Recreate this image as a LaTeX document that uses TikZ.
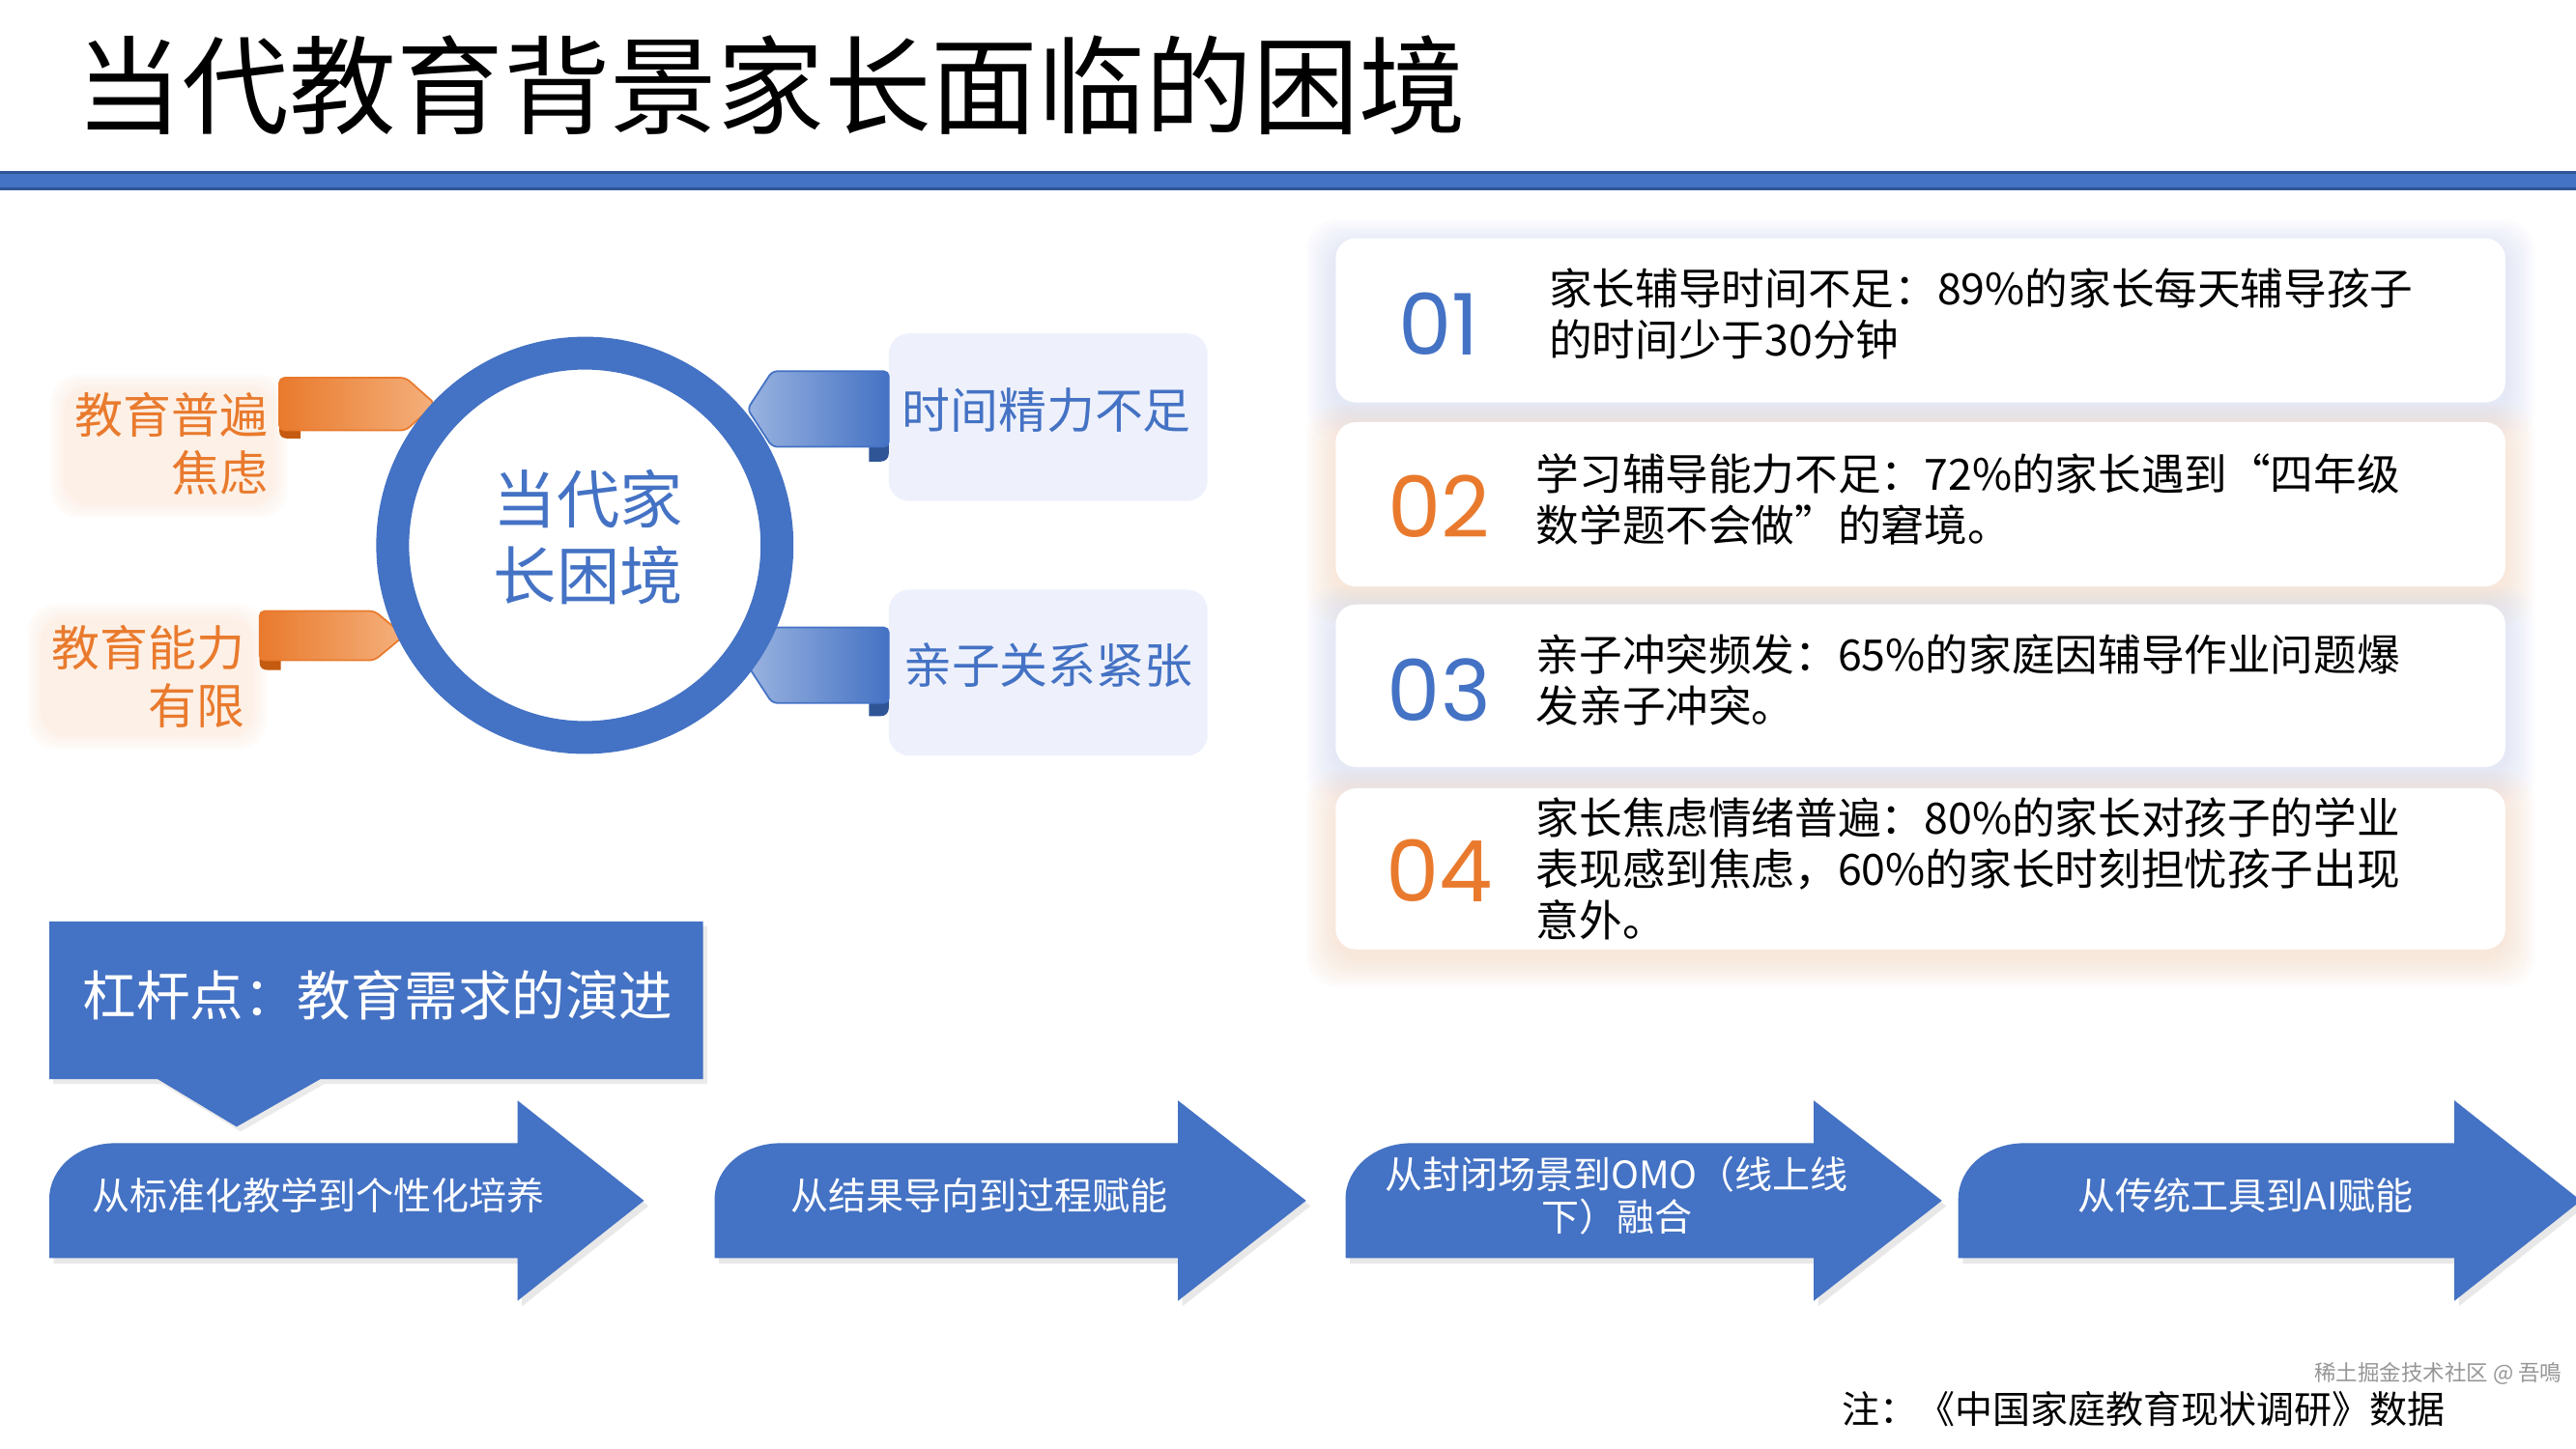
\documentclass[tikz,border=0pt]{standalone}
\usepackage{fontspec}
\setmainfont{Noto Sans CJK SC}
\newfontfamily\numfont{Poppins}
\usetikzlibrary{shadows}
\definecolor{mblue}{HTML}{4472C4}
\definecolor{dblue}{HTML}{2F5597}
\definecolor{lblue}{HTML}{9AB3E0}
\definecolor{morange}{HTML}{E97A2D}
\definecolor{lorange}{HTML}{F4B07C}
\definecolor{dorange}{HTML}{C55A11}
\definecolor{peach}{HTML}{FDF0E6}
\definecolor{lav}{HTML}{EEF1FB}
\definecolor{glowb}{HTML}{C9D4EE}
\definecolor{glowo}{HTML}{F8D3B8}
\newdimen\pxu \pxu=0.17003mm
\newcommand\fsz[2]{\fontsize{#1pt}{#2pt}\selectfont}
\newcommand\mycard[3]{%
  \foreach \i in {1,...,10}{\fill[#3, opacity=0.055, rounded corners=9pt] ({813-1.8*\i},{#1-1.6*\i+5}) rectangle ({1525+1.8*\i},{#2+1.8*\i+5});}
  \fill[white, rounded corners=6pt] (813,#1) rectangle (1525,#2);}
\newcommand\bigarrow[3]{%
  \fill[mblue, drop shadow={opacity=0.45, fill=black!20, shadow xshift=1.3pt, shadow yshift=-1.6pt}]
   (#1,766) -- (#1,730) .. controls (#1,711) and ({#1+18},696) .. ({#1+40},696)
   -- (#2,696) -- (#2,670) -- (#3,731) -- (#2,792) -- (#2,766) -- cycle;}
\tikzset{
  txt/.style={inner sep=0pt, outer sep=0pt},
  ttl/.style={txt, anchor=west, font=\fsz{31.5}{36}},
  orlab/.style={txt, anchor=east, align=right, text=morange, font=\fsz{14.2}{17}},
  bllab/.style={txt, anchor=west, text=mblue, font=\fsz{14.2}{17}},
  numtxt/.style={txt, font=\numfont\fsz{25}{30}},
  cardtxt/.style={txt, anchor=west, align=left, font=\fsz{12.7}{15}},
  arrtxt/.style={txt, align=center, text=white, font=\fsz{11.1}{12.6}},
}
\begin{document}
\begin{tikzpicture}[x=0.17003mm,y=-0.17003mm]
\useasboundingbox (0,0) rectangle (1568,882);
\fill[white] (0,0) rectangle (1568,882);

% title and bar
\node[ttl] (title) at (46,52) {当代教育背景家长面临的困境};
\draw[dblue, fill=mblue, line width=0.7pt] (-5,105) rectangle (1573,115);

% left label backgrounds
\foreach \i in {1,...,4}{\fill[peach, opacity=0.25, rounded corners=8pt] ({39-2*\i},{236-2*\i}) rectangle ({167+2*\i},{307+2*\i});}
\fill[peach, rounded corners=7pt] (39,236) rectangle (167,307);
\foreach \i in {1,...,4}{\fill[peach, opacity=0.25, rounded corners=8pt] ({25-2*\i},{376-2*\i}) rectangle ({154+2*\i},{448+2*\i});}
\fill[peach, rounded corners=7pt] (25,376) rectangle (154,448);

% right label boxes
\fill[lav, rounded corners=6pt] (541,203) rectangle (735,305);
\fill[lav, rounded corners=6pt] (541,359) rectangle (735,460);

% orange ribbons
\fill[dorange] (170,254) -- (170,262) .. controls (170,266) and (172,267) .. (176,267) -- (183,267) -- (183,254) -- cycle;
\shade[left color=morange, right color=lorange, draw=morange, line width=0.5pt, rounded corners=1.5pt]
  (170,262) -- (170,230) -- (247,230) -- (265,246) -- (247,262) -- cycle;
\fill[dorange] (158,396) -- (158,403) .. controls (158,407) and (160,408) .. (164,408) -- (171,408) -- (171,396) -- cycle;
\shade[left color=morange, right color=lorange, draw=morange, line width=0.5pt, rounded corners=1.5pt]
  (158,402) -- (158,372) -- (228,372) -- (246,387) -- (228,402) -- cycle;

% blue ribbons
\fill[dblue] (529,266) -- (529,281) -- (536,281) .. controls (539,281) and (541,279) .. (541,276) -- (541,266) -- cycle;
\shade[left color=lblue, middle color=mblue, right color=mblue, draw=mblue, line width=0.5pt, rounded corners=1.5pt]
  (455,249) -- (470,226) -- (541,226) -- (541,272) -- (470,272) -- cycle;
\fill[dblue] (529,422) -- (529,436) -- (536,436) .. controls (539,436) and (541,434) .. (541,431) -- (541,422) -- cycle;
\shade[left color=lblue, middle color=mblue, right color=mblue, draw=mblue, line width=0.5pt, rounded corners=1.5pt]
  (455,405) -- (470,382) -- (541,382) -- (541,428) -- (470,428) -- cycle;

% hub
\node[circle, draw=mblue, line width=20\pxu, fill=white, minimum size=234\pxu, inner sep=0pt] (hub) at (356,332) {};
\node[txt, align=center, text=mblue, font=\fsz{18.6}{22.5}] (hubtext) at (358,327) {当代家\\长困境};

% labels
\node[orlab] (lab1) at (163,270) {教育普遍\\焦虑};
\node[orlab] (lab2) at (149,412) {教育能力\\有限};
\node[bllab] (lab3) at (549,250) {时间精力不足};
\node[bllab] (lab4) at (550,405) {亲子关系紧张};

% cards
\mycard{145}{245}{glowb}
\mycard{257}{357}{glowo}
\mycard{368}{467}{glowb}
\mycard{480}{578}{glowo}
\node[numtxt, text=mblue] (n1) at (876,197) {01};
\node[numtxt, text=morange] (n2) at (876,308) {02};
\node[numtxt, text=mblue] (n3) at (876,420) {03};
\node[numtxt, text=morange] (n4) at (876,530) {04};
\node[cardtxt] (t1) at (943,191) {家长辅导时间不足：89\%的家长每天辅导孩子\\的时间少于30分钟};
\node[cardtxt] (t2) at (935,304) {学习辅导能力不足：72\%的家长遇到“四年级\\数学题不会做”的窘境。};
\node[cardtxt] (t3) at (935,414) {亲子冲突频发：65\%的家庭因辅导作业问题爆\\发亲子冲突。};
\node[cardtxt] (t4) at (935,529) {家长焦虑情绪普遍：80\%的家长对孩子的学业\\表现感到焦虑，60\%的家长时刻担忧孩子出现\\意外。};

% callout
\fill[mblue, drop shadow={opacity=0.4, fill=black!20, shadow xshift=1.2pt, shadow yshift=-1.4pt}]
  (30,561) -- (428,561) -- (428,657) -- (195,657) -- (144,686) -- (96,657) -- (30,657) -- cycle;
\node[txt, text=white, font=\fsz{15.8}{18}] (lever) at (230,606) {杠杆点：教育需求的演进};

% arrows
\bigarrow{30}{315}{392}
\bigarrow{435}{717}{795}
\bigarrow{819}{1104}{1182}
\bigarrow{1192}{1494}{1571}
\node[arrtxt] (a1) at (194,728) {从标准化教学到个性化培养};
\node[arrtxt] (a2) at (596,728) {从结果导向到过程赋能};
\node[arrtxt] (a3) at (984,728) {从封闭场景到OMO（线上线\\下）融合};
\node[arrtxt] (a4) at (1367,728) {从传统工具到AI赋能};

% footer
\node[txt, anchor=west, font=\fsz{11.1}{13}] (note) at (1121,858) {注：《中国家庭教育现状调研》数据};
\node[txt, text=black!55, opacity=0.75, font=\fsz{6.4}{8}] (wm) at (1484,836) {稀土掘金技术社区 @ 吾鳴};
\end{tikzpicture}
\end{document}
